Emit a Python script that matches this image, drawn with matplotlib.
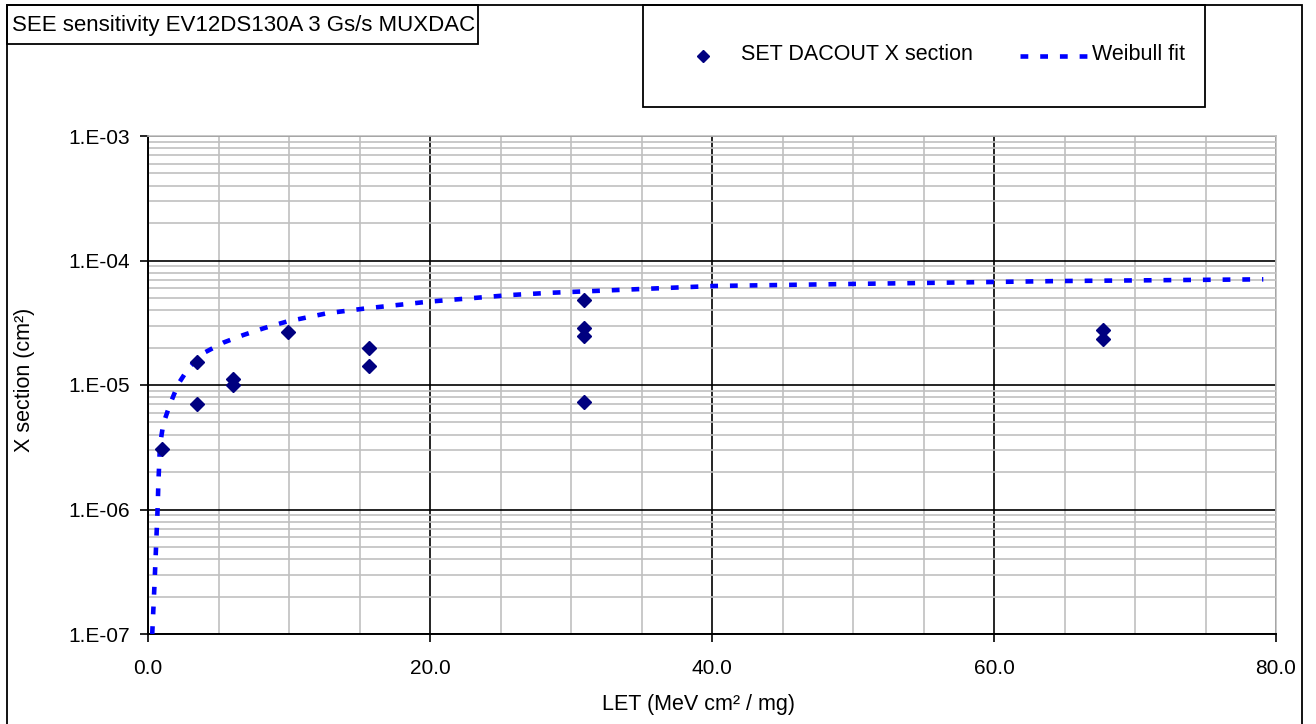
import matplotlib.pyplot as plt
from matplotlib.patches import Rectangle
from matplotlib.lines import Line2D
from matplotlib.ticker import FixedLocator, LogLocator, NullFormatter

plt.rcParams['font.family'] = ['Liberation Sans', 'DejaVu Sans']

# measured cross sections (LET, X section)
let_pts = [1.0, 3.45, 3.45, 6.05, 6.05, 9.9, 15.7, 15.7,
           30.9, 30.9, 30.9, 30.9, 67.7, 67.7]
xs_pts = [3.05e-6, 1.52e-5, 7.1e-6, 1.12e-5, 1.0e-5, 2.68e-5, 2.0e-5, 1.42e-5,
          4.82e-5, 2.85e-5, 2.48e-5, 7.35e-6, 2.77e-5, 2.33e-5]

# weibull fit curve
fit_let = [0.3, 0.45, 0.57, 0.69, 0.73, 0.85, 1.09, 1.56, 2.15, 2.86, 3.92,
           5.34, 6.76, 8.18, 9.83, 12.7, 15.5, 19.9, 25.7, 28.5, 40.1, 48.6,
           64.7, 79.1]
fit_xs = [1.0e-7, 2.35e-7, 5.0e-7, 1.07e-6, 1.57e-6, 3.3e-6, 4.9e-6, 7.0e-6,
          1.02e-5, 1.36e-5, 1.8e-5, 2.19e-5, 2.52e-5, 2.85e-5, 3.23e-5,
          3.77e-5, 4.13e-5, 4.67e-5, 5.28e-5, 5.5e-5, 6.24e-5, 6.45e-5,
          6.84e-5, 7.06e-5]

xticks = [0, 20, 40, 60, 80]
xtick_labels = ['0.0', '20.0', '40.0', '60.0', '80.0']
yticks = [1e-7, 1e-6, 1e-5, 1e-4, 1e-3]
ytick_labels = ['1.E-07', '1.E-06', '1.E-05', '1.E-04', '1.E-03']

W, H = 1316, 724
fig = plt.figure(figsize=(W / 100, H / 100), dpi=100)

def fx(px):
    return px / W

def fy(py):
    return 1 - py / H

# outer frame, title box, legend box (figure pixel coords)
def box(x0, y0, x1, y1):
    fig.patches.append(Rectangle((fx(x0), fy(y1)), (x1 - x0) / W, (y1 - y0) / H,
                                 transform=fig.transFigure, fill=False,
                                 edgecolor='black', lw=1.3))

box(7, 5, 1302, 740)
box(7, 5, 478, 44)
box(643, 5, 1205, 107)

fig.text(fx(12), fy(25), 'SEE sensitivity EV12DS130A 3 Gs/s MUXDAC',
         fontsize=16, va='center', ha='left')

ax = fig.add_axes([fx(148), fy(634), (1276 - 148) / W, (634 - 136) / H])
ax.set_yscale('log')
ax.set_xlim(0, 80)
ax.set_ylim(1e-7, 1e-3)

ax.plot(fit_let, fit_xs, color='#0000ff', lw=3.3, dashes=(1.7, 2.6), zorder=3)
ax.plot(let_pts, xs_pts, ls='none', marker='D', ms=7.5, color='#000080', zorder=4)

ax.xaxis.set_major_locator(FixedLocator(xticks))
ax.xaxis.set_minor_locator(FixedLocator(range(0, 81, 5)))
ax.set_xticklabels(xtick_labels)
ax.yaxis.set_major_locator(FixedLocator(yticks))
ax.yaxis.set_minor_locator(LogLocator(base=10, subs=range(2, 10)))
ax.yaxis.set_minor_formatter(NullFormatter())
ax.set_yticklabels(ytick_labels)

ax.grid(which='minor', color='#c0c0c0', lw=1.2)
ax.grid(which='major', color='black', lw=1.2)
ax.set_axisbelow(True)
ax.tick_params(which='major', direction='out', length=6, width=1.2,
               labelsize=15, pad=7)
ax.tick_params(axis='x', pad=12)
ax.tick_params(which='minor', length=0)
for s in ['top', 'right']:
    ax.spines[s].set_color('#c0c0c0')
    ax.spines[s].set_linewidth(1.2)
for s in ['left', 'bottom']:
    ax.spines[s].set_linewidth(1.4)

ax.set_xlabel('LET (MeV cm² / mg)', fontsize=15.5)
ax.set_ylabel('X section (cm²)', fontsize=15.5)
ax.xaxis.set_label_coords((698 - 148) / (1276 - 148), -0.12)
ax.yaxis.set_label_coords(-0.1, 0.51)

# legend drawn by hand inside its box
fig.lines.append(Line2D([fx(703)], [fy(56)], ls='none', marker='D', ms=6,
                        color='#000080', transform=fig.transFigure))
fig.text(fx(741), fy(55), 'SET DACOUT X section', fontsize=15.5,
         va='center', ha='left')
fig.lines.append(Line2D([fx(1020), fx(1091)], [fy(56), fy(56)], color='#0000ff',
                        lw=3.3, dashes=(1.7, 2.6), transform=fig.transFigure))
fig.text(fx(1092), fy(55), 'Weibull fit', fontsize=15.5, va='center', ha='left')

fig.savefig('out.png', dpi=100)
